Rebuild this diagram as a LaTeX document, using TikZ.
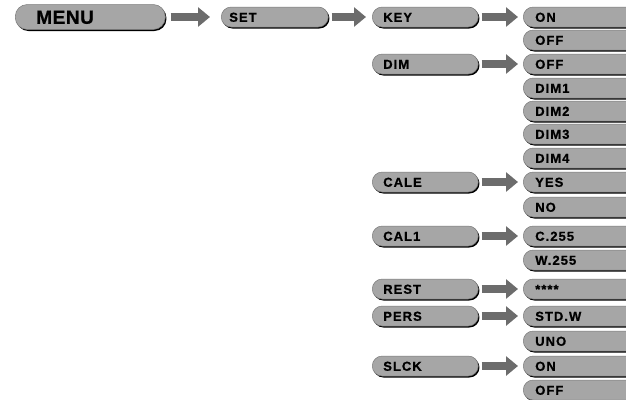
\documentclass[tikz,border=0pt]{standalone}
\usepackage{fontspec}
\setmainfont{Liberation Sans}
\usetikzlibrary{arrows.meta,shadows}

\definecolor{boxgray}{HTML}{A6A6A6}
\definecolor{boxedge}{HTML}{7A7A7A}
\definecolor{arrowgray}{HTML}{6C6C6C}

\tikzset{
  menubox/.style={rectangle, rounded corners=10pt, draw=boxedge, line width=0.5pt,
    fill=boxgray, minimum height=20pt, inner xsep=11pt, inner ysep=0pt,
    anchor=west, align=left, text height=9.5pt, text depth=0pt,
    font=\bfseries\fontsize{13}{13}\selectfont\addfontfeatures{LetterSpace=8,FakeBold=0.8},
    drop shadow={shadow xshift=1.2pt, shadow yshift=-1.5pt, fill=black, opacity=1}},
  leftbox/.style={menubox, text width=84pt},
  rightbox/.style={menubox, inner xsep=12pt, text width=110pt},
  menuarrow/.style={draw=arrowgray, line width=8pt,
    -{Triangle[length=12pt 0, width=19pt 0]}, shorten <=3pt, shorten >=5pt}
}

\begin{document}
\begin{tikzpicture}[x=1pt, y=-1pt]
      \useasboundingbox (0,0) rectangle (626,399);
      \clip (0,0) rectangle (626,399);

      % top of the tree
      \node[menubox, name=menu, rounded corners=12pt, minimum height=25pt, inner xsep=21pt,
            text width=108pt, text height=13.5pt,
            font=\bfseries\fontsize{19}{19}\selectfont\addfontfeatures{LetterSpace=3,FakeBold=0.8}] at (15,17) {MENU};
      \node[menubox, name=set, inner xsep=8pt, text width=91pt] at (221,17) {SET};

      % second level
      \node[leftbox, name=key] at (372,17) {KEY};
      \node[leftbox, name=dim] at (372,64) {DIM};
      \node[leftbox, name=cale] at (372,182) {CALE};
      \node[leftbox, name=cal1] at (372,236) {CAL1};
      \node[leftbox, name=rest] at (372,289) {REST};
      \node[leftbox, name=pers] at (372,316) {PERS};
      \node[leftbox, name=slck] at (372,366) {SLCK};

      % values
      \node[rightbox, name=keyon] at (523,17) {ON};
      \node[rightbox, name=keyoff] at (523,40) {OFF};
      \node[rightbox, name=dimoff] at (523,64) {OFF};
      \node[rightbox, name=dima] at (523,88) {DIM1};
      \node[rightbox, name=dimb] at (523,111) {DIM2};
      \node[rightbox, name=dimc] at (523,134) {DIM3};
      \node[rightbox, name=dimd] at (523,158) {DIM4};
      \node[rightbox, name=caleyes] at (523,182) {YES};
      \node[rightbox, name=caleno] at (523,207) {NO};
      \node[rightbox, name=calc] at (523,236) {C.255};
      \node[rightbox, name=calw] at (523,260) {W.255};
      \node[rightbox, name=reststar] at (523,289) {****};
      \node[rightbox, name=persstd] at (523,316) {STD.W};
      \node[rightbox, name=persuno] at (523,341) {UNO};
      \node[rightbox, name=slckon] at (523,366) {ON};
      \node[rightbox, name=slckoff] at (523,390) {OFF};

      \path[every edge/.style={menuarrow}]
         (menu.east) edge[shorten <=5pt, shorten >=11pt] (set.west)
         (set.east) edge[shorten >=6pt] (key.west)
         (key.east) edge (keyon.west)
         (dim.east) edge (dimoff.west)
         (cale.east) edge (caleyes.west)
         (cal1.east) edge (calc.west)
         (rest.east) edge (reststar.west)
         (pers.east) edge (persstd.west)
         (slck.east) edge (slckon.west);
   \end{tikzpicture}
\end{document}
